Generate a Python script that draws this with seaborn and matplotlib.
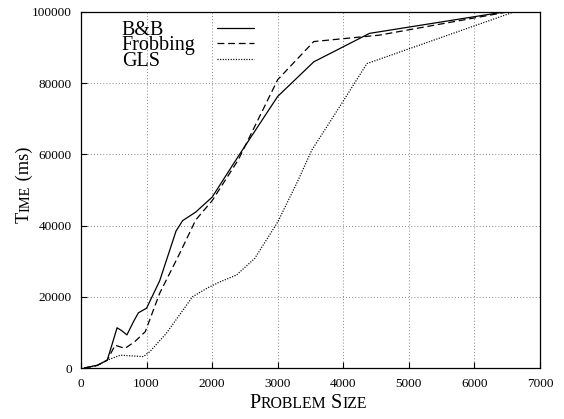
import matplotlib
matplotlib.use("Agg")
import matplotlib.pyplot as plt
from matplotlib.transforms import IdentityTransform
import seaborn as sns
import pandas as pd

# ---- data ----
bnb_size = [50, 250, 400, 480, 550, 620, 700, 800, 875, 1000, 1200, 1450, 1550, 1750, 2000, 2400, 3000, 3550, 4400, 6450]
bnb_time = [0, 800, 2200, 7000, 11300, 10500, 9300, 13000, 15500, 16800, 24500, 38500, 41400, 43800, 48000, 59500, 76300, 86000, 94000, 100000]

frob_size = [50, 250, 400, 520, 670, 820, 980, 1200, 1500, 1750, 2000, 2400, 3000, 3550, 4550, 6500]
frob_time = [0, 700, 2200, 6400, 5500, 7400, 10200, 21000, 32000, 41600, 47000, 58500, 81000, 91700, 93500, 100000]

gls_size = [50, 250, 400, 600, 950, 1050, 1300, 1700, 1920, 2120, 2370, 2650, 3000, 3300, 3520, 4000, 4360, 6600]
gls_time = [0, 700, 2200, 3600, 3200, 4600, 9700, 20000, 22400, 24200, 26100, 30800, 41000, 52300, 61200, 75000, 85500, 100000]

series_names = ["B&B", "Frobbing", "GLS"]
x_ticks = [0, 1000, 2000, 3000, 4000, 5000, 6000, 7000]
y_ticks = [0, 20000, 40000, 60000, 80000, 100000]

df = pd.concat([
    pd.DataFrame({"size": bnb_size, "time": bnb_time, "alg": "B&B"}),
    pd.DataFrame({"size": frob_size, "time": frob_time, "alg": "Frobbing"}),
    pd.DataFrame({"size": gls_size, "time": gls_time, "alg": "GLS"}),
], ignore_index=True)

sns.set_theme(style="ticks")
plt.rcParams["font.family"] = ["Liberation Serif", "DejaVu Serif"]
plt.rcParams["text.color"] = "black"
plt.rcParams["axes.labelcolor"] = "black"
plt.rcParams["xtick.color"] = "black"
plt.rcParams["ytick.color"] = "black"

fig = plt.figure(figsize=(5.64, 4.19), dpi=100)
ax = fig.add_axes([81 / 564, 51 / 419, 459 / 564, 356 / 419])

sns.lineplot(data=df, x="size", y="time", hue="alg", style="alg",
             hue_order=series_names, style_order=series_names,
             palette={"B&B": "black", "Frobbing": "black", "GLS": "black"},
             dashes={"B&B": "", "Frobbing": (5.5, 3.0), "GLS": (0.9, 1.2)},
             sort=False, estimator=None, linewidth=0.9, ax=ax)

ax.set_xlim(0, 7000)
ax.set_ylim(0, 100000)
ax.set_xticks(x_ticks)
ax.set_yticks(y_ticks)
ax.set_xticklabels([str(v) for v in x_ticks])
ax.set_yticklabels([str(v) for v in y_ticks])
ax.tick_params(axis="both", direction="in", length=4, width=0.8, labelsize=9.5,
               colors="black", labelcolor="black")
ax.tick_params(axis="x", pad=7.5)
ax.tick_params(axis="y", pad=6.5)
ax.set_axisbelow(True)
ax.grid(True, color="#888888", linestyle=(0, (1, 2.2)), linewidth=0.7)
for sp in ax.spines.values():
    sp.set_color("black")
    sp.set_linewidth(0.9)
ax.set_xlabel("")
ax.set_ylabel("")

# legend: text left, line right
handles, labels = ax.get_legend_handles_labels()
hl = [(h, l) for h, l in zip(handles, labels) if l in series_names]
if ax.get_legend() is not None:
    ax.get_legend().remove()
leg_fs = 14.5
leg_pad = 1.08
leg = ax.legend([h for h, _ in hl], [l for _, l in hl], loc="upper left",
                bbox_to_anchor=(121.7 / 564, 1 - 20.5 / 419), bbox_transform=fig.transFigure,
                frameon=False, markerfirst=False, fontsize=leg_fs, handlelength=1.85,
                handletextpad=leg_pad, labelspacing=-0.175, borderpad=0, borderaxespad=0,
                labelcolor="black")

fig.canvas.draw()
renderer = fig.canvas.get_renderer()

# left-align the legend texts while keeping the sample lines in one column
col = leg._legend_handle_box.get_children()[0]
col.align = "left"
txt_w = [t.get_window_extent(renderer).width for t in leg.get_texts()]
max_w = max(txt_w)
for row, w in zip(col.get_children(), txt_w):
    row.sep = leg_pad * leg_fs + (max_w - w) * 72.0 / fig.dpi


def small_caps(pieces, cx, cy, rotation=0):
    objs = []
    lens = []
    for s, sz in pieces:
        t = fig.text(0, 0, s, fontsize=sz, rotation=rotation, rotation_mode="anchor",
                     ha="left", va="baseline", transform=IdentityTransform(), color="black")
        bb = t.get_window_extent(renderer)
        lens.append(bb.width if rotation == 0 else bb.height)
        objs.append(t)
    total = sum(lens)
    pos = -total / 2
    for t, L in zip(objs, lens):
        if rotation == 0:
            t.set_position((cx + pos, cy))
        else:
            t.set_position((cx, cy + pos))
        pos += L


small_caps([("P", 14.5), ("ROBLEM", 11.3), (" S", 14.5), ("IZE", 11.3)], 308, 419 - 408)
small_caps([("T", 13.2), ("IME", 10.3), (" (ms)", 13.2)], 29, 419 - 185, rotation=90)

fig.savefig("out.png", dpi=100)
